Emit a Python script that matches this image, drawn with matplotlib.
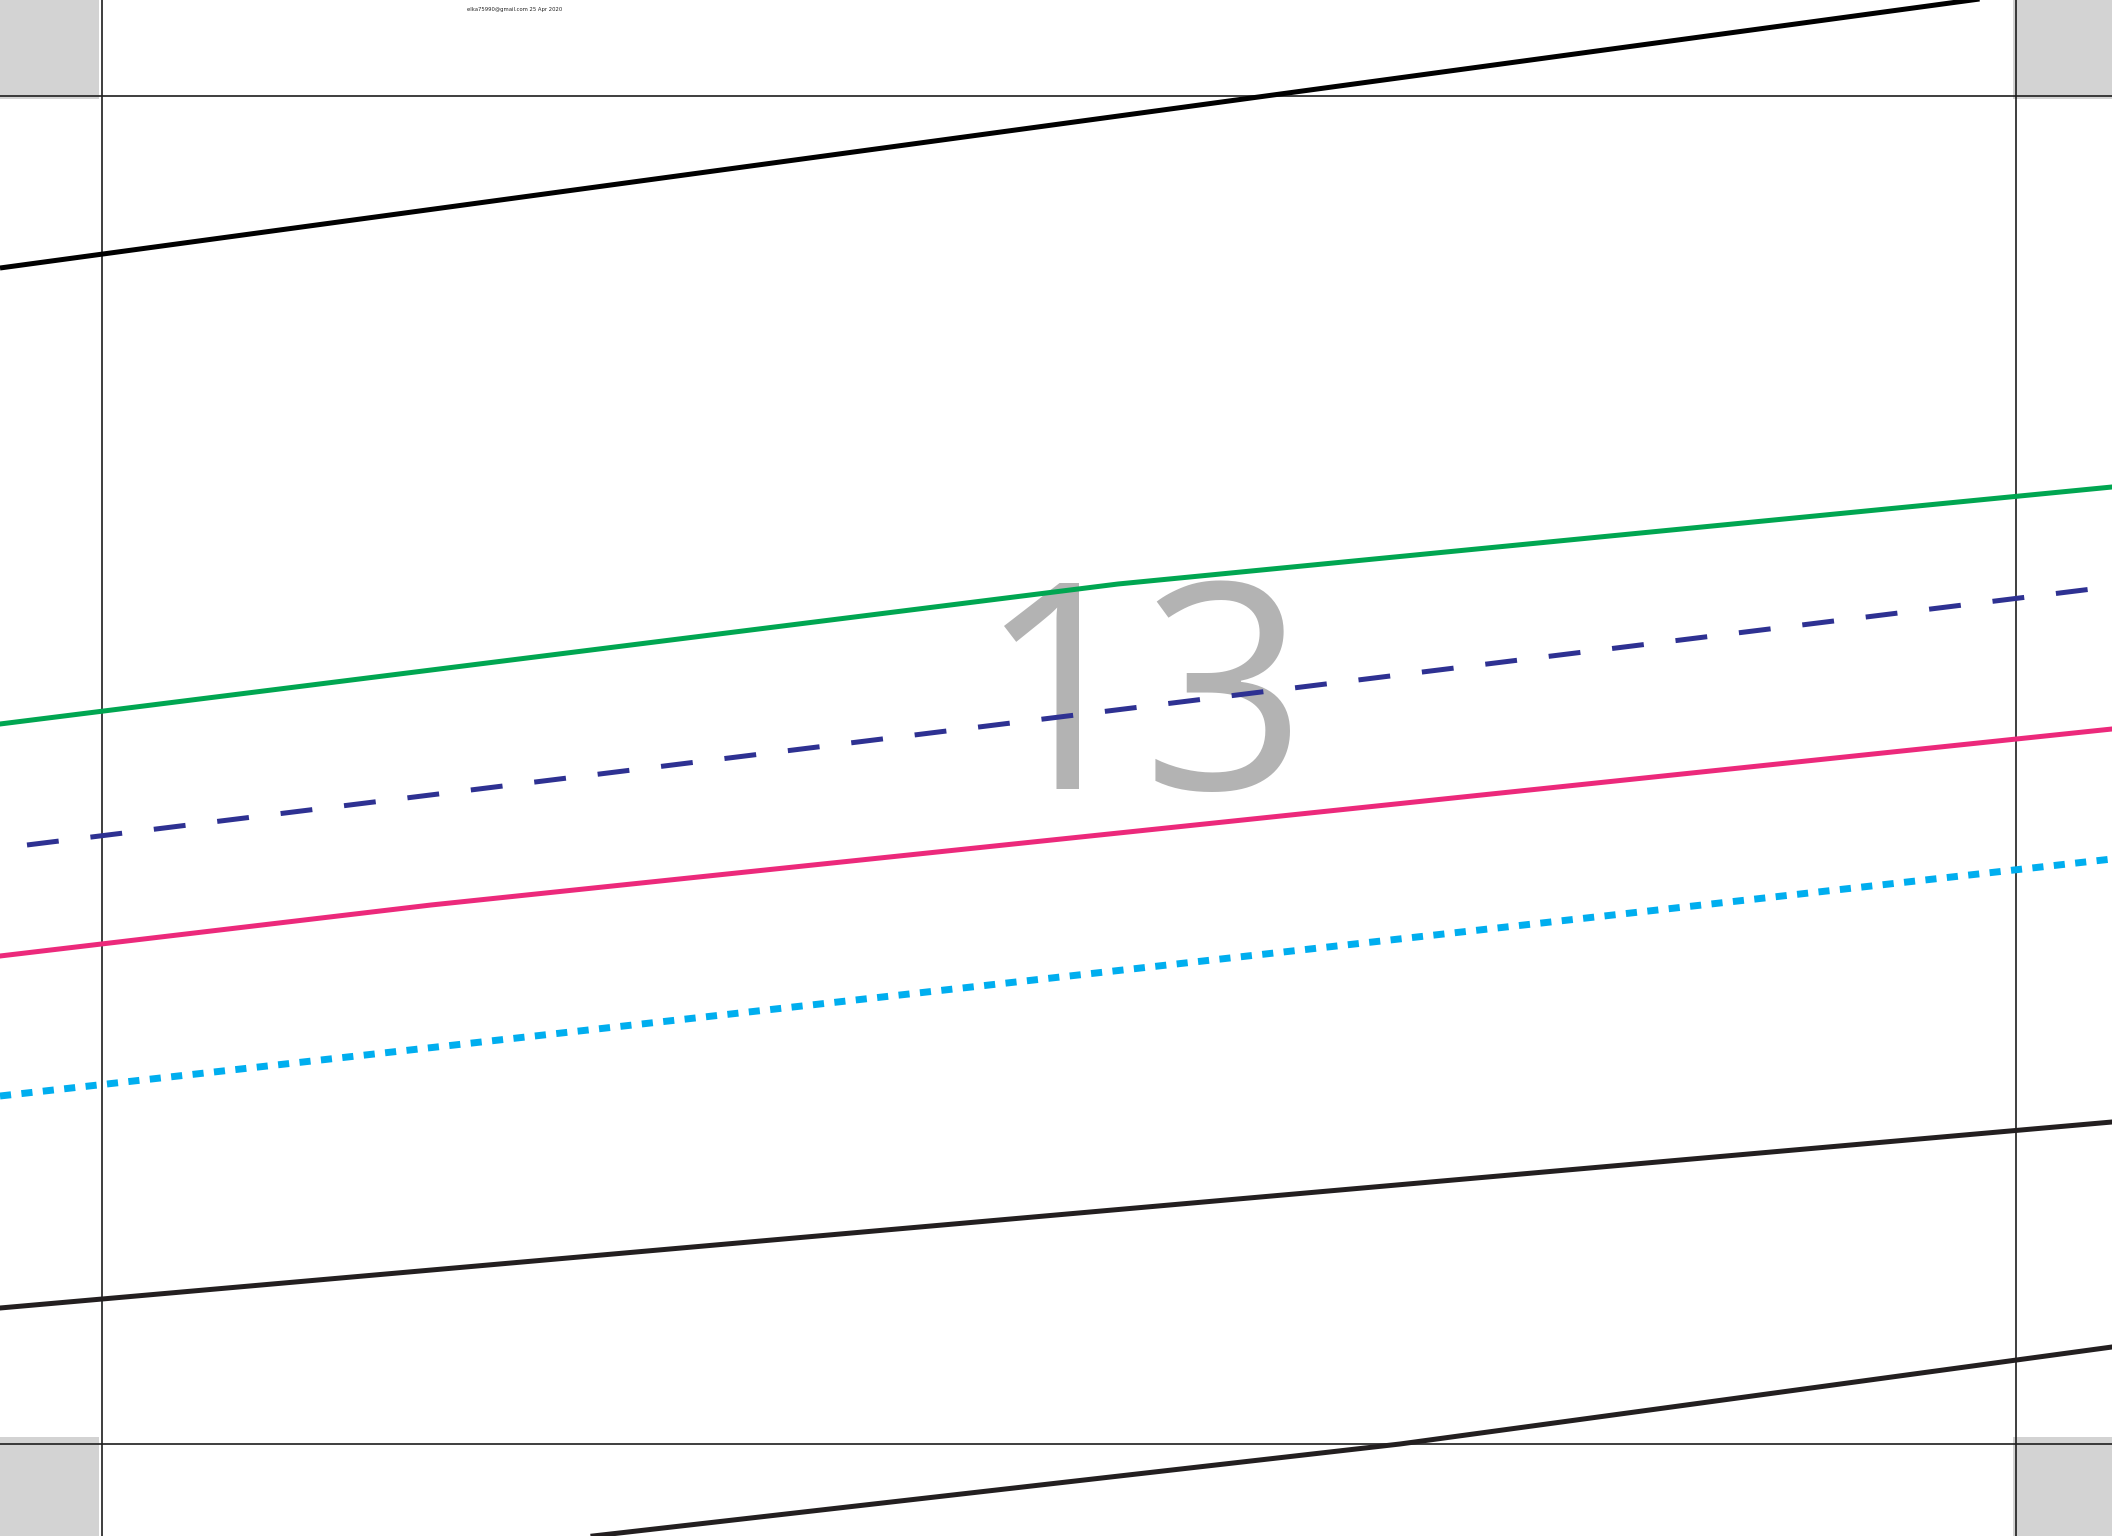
import matplotlib
matplotlib.use("Agg")
import matplotlib.pyplot as plt
from matplotlib.patches import Rectangle

plt.rcParams['lines.scale_dashes'] = False

W, H = 2112, 1536

# ---- data (page pixel coordinates) ----
black_top_x = [0, 2112]
black_top_y = [268, -19]

green_x = [0, 1118, 2112]
green_y = [724, 584, 487]

navy_x = [27, 2092]
navy_y = [845, 589]

pink_x = [0, 431, 2112]
pink_y = [956, 905, 729]

cyan_x = [0, 2112]
cyan_y = [1096, 859]

black_mid_x = [0, 2112]
black_mid_y = [1308, 1122]

black_low_x = [593, 1400, 2112]
black_low_y = [1536, 1444, 1347]

frame_vx = [102, 2016]
frame_hy = [96, 1444]

label_text = "13"
footer_text = "elka75990@gmail.com 25 Apr 2020"

# ---- drawing ----
fig = plt.figure(figsize=(W / 100, H / 100), dpi=100)
ax = fig.add_axes([0, 0, 1, 1])
ax.set_xlim(0, W)
ax.set_ylim(H, 0)
ax.axis('off')

# corner boxes
for (x0, y0) in [(0, 0), (2013, 0), (0, 1437), (2013, 1437)]:
    ax.add_patch(Rectangle((x0, y0), 99, 99, facecolor='#d3d3d3', edgecolor='none', zorder=1))

# frame lines
for x in frame_vx:
    ax.axvline(x, color='#1e1e1e', lw=1.2, zorder=2)
for y in frame_hy:
    ax.axhline(y, color='#1e1e1e', lw=1.2, zorder=2)

# big label
ax.text(1143, 789, label_text, fontsize=207, color='#b3b3b3', ha='center', va='baseline',
        family=['Open Sans', 'DejaVu Sans'], zorder=3)

lw = 3.6
ax.plot(black_top_x, black_top_y, color='#000000', lw=lw, solid_capstyle='butt', zorder=4)
ax.plot(green_x, green_y, color='#00a651', lw=lw, solid_joinstyle='miter', zorder=4)
ax.plot(navy_x, navy_y, color='#2e3192', lw=lw, dashes=(23, 23), dash_capstyle='butt', zorder=4)
ax.plot(pink_x, pink_y, color='#ec297b', lw=lw, zorder=4)
ax.plot(cyan_x, cyan_y, color='#00aeef', lw=5.0, dashes=(8, 7.5), dash_capstyle='butt', zorder=4)
ax.plot(black_mid_x, black_mid_y, color='#231f20', lw=lw, zorder=4)
ax.plot(black_low_x, black_low_y, color='#231f20', lw=lw, zorder=4)

ax.text(467, 9, footer_text, fontsize=3.8, color='#222222', ha='left', va='center', zorder=5)

fig.savefig('out.png', dpi=100)
